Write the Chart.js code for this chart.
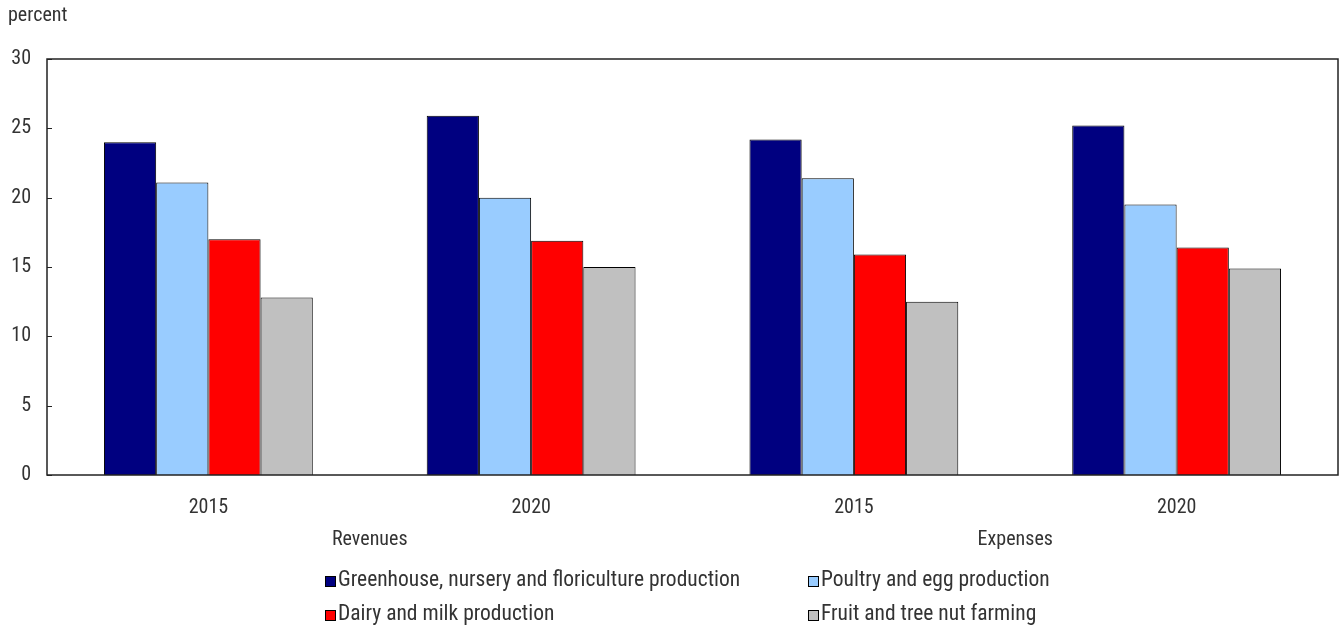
<!DOCTYPE html>
<html>
<head>
<meta charset="utf-8">
<script src="https://cdn.jsdelivr.net/npm/chart.js@4.4.1/dist/chart.umd.min.js"></script>
<style>
  html, body { margin: 0; padding: 0; background: #fff; }
  #wrap { width: 1340px; height: 627px; position: relative; }
</style>
</head>
<body>
<div id="wrap"><canvas id="chart" width="1340" height="627"></canvas></div>
<script>
// share of farm revenues / expenses by farm type
const years = ['2015', '2020', '2015', '2020'];
const sections = ['Revenues', 'Expenses'];
const seriesNames = [
  'Greenhouse, nursery and floriculture production',
  'Poultry and egg production',
  'Dairy and milk production',
  'Fruit and tree nut farming'
];
const greenhouse = [24.0, 25.9, 24.2, 25.2];
const poultry = [21.1, 20.0, 21.4, 19.5];
const dairy = [17.0, 16.9, 15.9, 16.4];
const fruit = [12.8, 15.0, 12.5, 14.9];
const colors = ['#000080', '#99ccff', '#ff0000', '#c0c0c0'];

const FONT = '"Liberation Sans Narrow", "Arial Narrow", "Roboto Condensed", sans-serif';
const TEXT = '#333333';

const frame = {
  id: 'frame',
  afterDraw(chart) {
    const {ctx, chartArea: a, scales} = chart;
    ctx.save();
    // plot box
    ctx.strokeStyle = '#222';
    ctx.lineWidth = 1.5;
    ctx.strokeRect(a.left, a.top, a.right - a.left, a.bottom - a.top);
    // inward y ticks
    ctx.lineWidth = 1;
    scales.y.ticks.forEach(t => {
      const y = Math.round(scales.y.getPixelForValue(t.value)) + 0.5;
      ctx.beginPath();
      ctx.moveTo(a.left, y);
      ctx.lineTo(a.left + 5, y);
      ctx.stroke();
    });
    // unit label
    ctx.fillStyle = TEXT;
    ctx.font = '20px ' + FONT;
    ctx.textAlign = 'left';
    ctx.textBaseline = 'middle';
    ctx.fillText('percent', 8, 16);
    // section labels under each pair of years
    ctx.font = '20px ' + FONT;
    ctx.textAlign = 'center';
    sections.forEach((s, i) => {
      const x = (scales.x.getPixelForValue(i * 2) + scales.x.getPixelForValue(i * 2 + 1)) / 2;
      ctx.fillText(s, x, 540);
    });
    // legend, two columns
    ctx.font = '21.5px ' + FONT;
    ctx.textAlign = 'left';
    const cols = [325, 808], rows = [581, 615];
    chart.data.datasets.forEach((ds, i) => {
      const x = cols[i % 2], y = rows[Math.floor(i / 2)];
      ctx.fillStyle = ds.backgroundColor;
      ctx.fillRect(x, y - 5, 11, 11);
      ctx.strokeStyle = '#000';
      ctx.strokeRect(x + 0.5, y - 4.5, 10, 10);
      ctx.fillStyle = TEXT;
      ctx.fillText(ds.label, x + 13, y);
    });
    ctx.restore();
  }
};

const seriesData = [greenhouse, poultry, dairy, fruit];

new Chart(document.getElementById('chart'), {
  type: 'bar',
  data: {
    labels: years,
    datasets: seriesData.map((d, i) => ({
      label: seriesNames[i],
      data: d,
      backgroundColor: colors[i],
      borderColor: '#000',
      borderWidth: 1,
      categoryPercentage: 0.647,
      barPercentage: 1.0
    }))
  },
  options: {
    responsive: false,
    animation: false,
    layout: { padding: { top: 59, right: 2, left: 0, bottom: 0 } },
    plugins: { legend: { display: false }, tooltip: { enabled: false } },
    scales: {
      x: {
        grid: { display: false, drawTicks: false },
        border: { display: false },
        ticks: { color: TEXT, font: { family: FONT, size: 20 }, padding: 21 },
        afterFit(scale) { scale.height = 152; }
      },
      y: {
        min: 0, max: 30,
        grid: { display: false, drawTicks: false },
        border: { display: false },
        ticks: { stepSize: 5, color: TEXT, font: { family: FONT, size: 20 }, padding: 16 },
        afterFit(scale) { scale.width = 47; }
      }
    }
  },
  plugins: [frame]
});
</script>
</body>
</html>
